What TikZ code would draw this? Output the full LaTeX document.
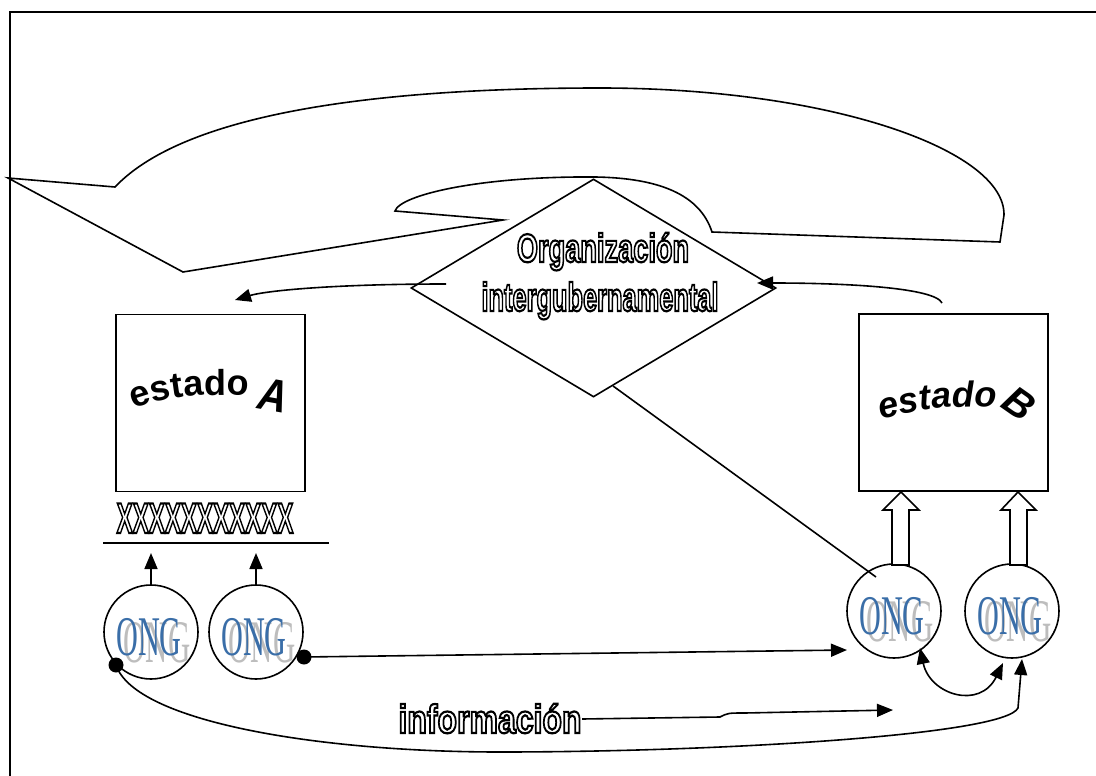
\documentclass[tikz,border=0pt]{standalone}
\usepackage{fontspec}
\setmainfont{Liberation Serif}
\newfontfamily\arial{Liberation Sans}
\usetikzlibrary{arrows.meta,shapes.geometric,decorations.text,calc}
\newcommand{\outl}[1]{\special{pdf:literal direct 1 Tr 2.2 w}#1\special{pdf:literal direct 0 Tr}}
\definecolor{ongblue}{HTML}{3A6EA8}
\definecolor{onggray}{HTML}{BDBDBD}
\begin{document}
\begin{tikzpicture}[x=1pt,y=-1pt,line width=1.6pt,line join=miter,
  tip/.style={-{Triangle[length=16pt,width=13pt]}},
  ongc/.style={draw,circle,minimum size=94pt,inner sep=0pt},
  boxst/.style={draw,minimum width=189pt,minimum height=177pt,inner sep=0pt},
  outlbl/.style={font=\arial\bfseries\fontsize{40}{44}\selectfont,inner sep=0pt,anchor=base},
  ongb/.style={font=\fontsize{56}{56}\selectfont,text=ongblue,xscale=0.54,inner sep=0pt,anchor=base},
  ongg/.style={font=\fontsize{56}{56}\selectfont,text=onggray,xscale=0.55,yscale=1.08,inner sep=0pt,anchor=base},
  blockarr/.style={draw,fill=white,line width=1.6pt},
  dot/.style={circle,fill=black,inner sep=0pt,minimum size=15pt}
]
\useasboundingbox (0,0) rectangle (1096,776);
% frame
\draw[line width=2.2pt] (10,790) -- (10,12) -- (1110,12);

% big callout shape
\draw (8,178) -- (115,187) .. controls (190,108) and (400,88) .. (600,88)
  .. controls (830,88) and (1005,150) .. (1004,215) -- (1000,242)
  -- (712,232) .. controls (700,195) and (660,178) .. (595,177)
  .. controls (480,176) and (400,195) .. (395,211)
  -- (503,220) -- (183,272) -- cycle;

% diamond
\node[draw,diamond,fill=white,minimum width=365pt,minimum height=218pt,inner sep=0pt] (org) at (593.5,288) {};
\node[outlbl,xscale=0.68] (orgt1) at (603,262) {\outl{Organización}};
\node[outlbl,xscale=0.635] (orgt2) at (600,311) {\outl{intergubernamental}};

% boxes
\node[boxst] (ea) at (210.5,403) {};
\node[boxst] (eb) at (953.5,402.5) {};

% estado A
\path[decorate,decoration={text along path,text align=center,
  text={|\arial\bfseries\fontsize{36}{36}\selectfont|estado}}]
  (128,411) .. controls (165,396) and (205,392) .. (254,397);
\node[font=\arial\bfseries\itshape\fontsize{40}{40}\selectfont,rotate=-10,yscale=1.15,anchor=base,inner sep=0pt] (la) at (271,411) {A};

% estado B
\path[decorate,decoration={text along path,text align=center,
  text={|\arial\bfseries\itshape\fontsize{36}{36}\selectfont|estado}}]
  (876,421) .. controls (910,410) and (955,404) .. (1002,408);
\node[font=\arial\bfseries\itshape\fontsize{40}{40}\selectfont,rotate=-35,anchor=center,inner sep=0pt] (lb) at (1019,404) {B};

% XXX bar
\node[outlbl,font=\arial\bfseries\fontsize{43}{43}\selectfont,xscale=0.56] (xx) at (205,533) {\outl{XXXXXXXXXXX}};
\coordinate (bar1) at (103,543);
\coordinate (bar2) at (329,543);
\draw (bar1) -- (bar2);

% ONG circles
\node[ongc] (o1) at (151,632) {};
\node[ongc] (o2) at (256,632) {};
\node[ongc] (o3) at (894,611) {};
\node[ongc] (o4) at (1012,611) {};
\foreach \n/\x/\y in {1/149/655,2/254/655,3/892/634,4/1010/634}{
  \node[ongg] (g\n) at (\x+8,\y+7) {ONG};
  \node[ongb] (b\n) at (\x,\y) {ONG};
}

% small arrows to bar
\coordinate (t1) at (151,553);
\coordinate (t2) at (256,553);
\draw[tip] (o1.north) -- (t1);
\draw[tip] (o2.north) -- (t2);

% block arrows to estado B
\draw[blockarr] (901,492) -- (919,510) -- (909,510) -- (909,565) -- (892,565) -- (892,510) -- (883,510) -- cycle;
\draw[blockarr] (1018,492) -- (1036,510) -- (1027,510) -- (1027,565) -- (1010,565) -- (1010,510) -- (1001,510) -- cycle;

% diamond to estado A
\coordinate (da1) at (446,284);
\coordinate (da2) at (235,300);
\draw[tip] (da1) .. controls (330,284) and (265,291) .. (da2);
% estado B to diamond
\coordinate (db1) at (942,303);
\coordinate (db2) at (757,283);
\draw[tip] (db1) .. controls (935,288) and (850,283) .. (db2);
% diamond to ONG 3
\coordinate (l3) at (876,577);
\draw ($(org.south)!0.107!(org.east)$) -- (l3);

% dots
\node[dot] (d1) at (116,665) {};
\node[dot] (d2) at (304,657) {};

% ONG2 -> ONG3
\coordinate (e3) at (847,650);
\draw[tip] (d2.center) -- (e3);
% ONG1 -> ONG4
\coordinate (e4) at (1022,659);
\draw[tip] (d1.center) .. controls (135,722) and (320,752) .. (500,752)
  .. controls (720,752) and (1005,735) .. (1018,708) -- (e4);
% ONG3 <-> ONG4
\coordinate (e5) at (920,648);
\coordinate (e6) at (1003,663);
\draw[{Triangle[length=16pt,width=13pt]}-{Triangle[length=16pt,width=13pt]}] (e5) .. controls (930,695) and (980,710) .. (e6);

% informacion
\node[outlbl,xscale=0.80] (inf) at (490,733) {\outl{información}};
\coordinate (e7) at (893,710);
\draw[tip] (inf.east |- 0,719) -- (720,717) .. controls (728,713) .. (745,713) -- (e7);
\end{tikzpicture}
\end{document}
